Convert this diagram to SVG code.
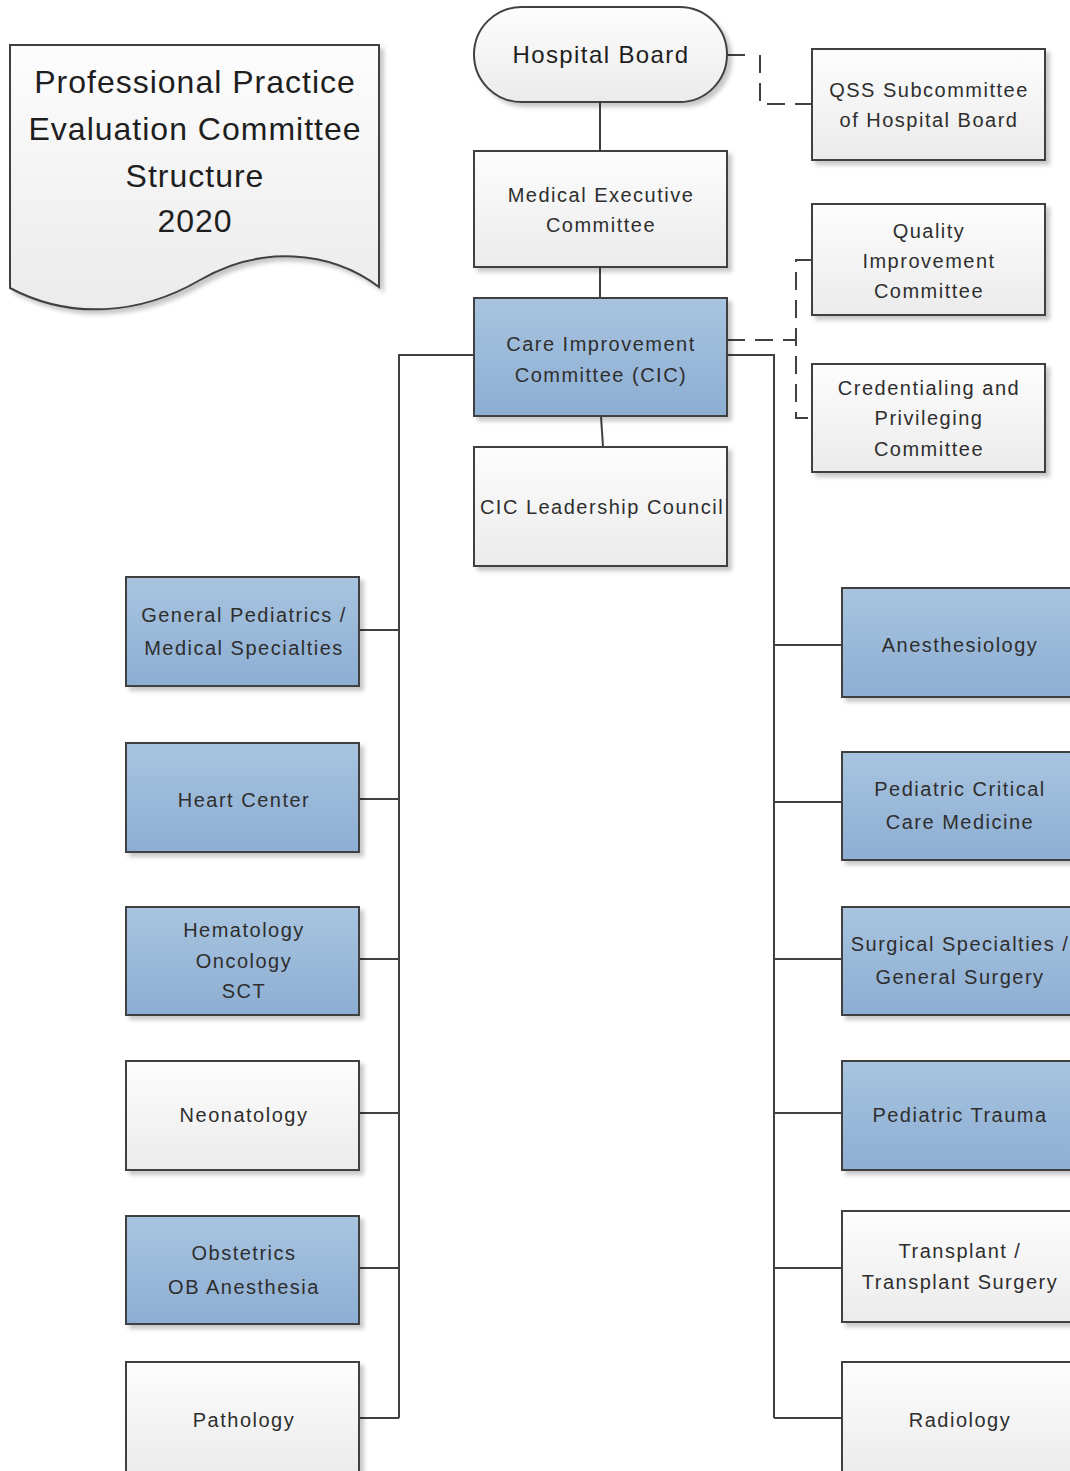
<svg xmlns="http://www.w3.org/2000/svg" width="1070" height="1471" viewBox="0 0 1070 1471">
  <defs>
    <linearGradient id="gGray" x1="0" y1="0" x2="0" y2="1">
      <stop offset="0" stop-color="#fdfdfd"/>
      <stop offset="1" stop-color="#ebebeb"/>
    </linearGradient>
    <linearGradient id="gBlue" x1="0" y1="0" x2="0" y2="1">
      <stop offset="0" stop-color="#a8c4df"/>
      <stop offset="1" stop-color="#8daed3"/>
    </linearGradient>
    <filter id="sh" x="-10%" y="-10%" width="130%" height="130%">
      <feDropShadow dx="4" dy="4" stdDeviation="2" flood-color="#000" flood-opacity="0.22"/>
    </filter>
    <style>
      .gray { fill: url(#gGray); stroke: #404040; stroke-width: 2; filter: url(#sh); }
      .blue { fill: url(#gBlue); stroke: #404040; stroke-width: 2; filter: url(#sh); }
      .t { font-family: "Liberation Sans", Arial, sans-serif; font-size: 20px; letter-spacing: 1.5px; fill: #2e2e2e; text-anchor: middle; }
      .tb { font-family: "Liberation Sans", Arial, sans-serif; font-size: 24px; letter-spacing: 1.4px; fill: #1e1e1e; text-anchor: middle; }
      .title { font-family: "Liberation Sans", Arial, sans-serif; font-size: 32px; letter-spacing: 1px; fill: #1e1e1e; text-anchor: middle; }
      .ln { fill: none; stroke: #404040; stroke-width: 2; }
      .dash { fill: none; stroke: #404040; stroke-width: 2; stroke-dasharray: 18 10; }
    </style>
  </defs>
  <rect width="1070" height="1471" fill="#ffffff"/>

  <g id="title">
    <path class="gray" d="M10,45 H379 V287 C330,250 260,245 200,280 C140,315 70,320 10,288 Z"/>
    <text class="title" x="195" y="93">Professional Practice</text>
    <text class="title" x="195" y="140">Evaluation Committee</text>
    <text class="title" x="195" y="187">Structure</text>
    <text class="title" x="195" y="232">2020</text>
  </g>

  <g id="connectors">
    <line class="ln" x1="600" y1="102" x2="600" y2="151"/>
    <line class="ln" x1="600" y1="267" x2="600" y2="298"/>
    <line class="ln" x1="601" y1="416" x2="603" y2="447"/>
    <path class="ln" d="M727,55 H745"/>
    <path class="dash" d="M760,55 V104 H812"/>
    <path class="dash" d="M727,340 H796"/>
    <path class="dash" d="M812,260 H796 V418 H812"/>
    <path class="ln" d="M474,355 H399 V1418"/>
    <path class="ln" d="M359,630 H399 M359,799 H399 M359,959 H399 M359,1113 H399 M359,1268 H399 M359,1418 H399"/>
    <path class="ln" d="M727,355 H774 V1418"/>
    <path class="ln" d="M774,645 H842 M774,802 H842 M774,959 H842 M774,1113 H842 M774,1268 H842 M774,1418 H842"/>
  </g>

  <g id="hospital-board">
    <rect class="gray" x="474" y="7" width="253" height="95" rx="47.5" ry="47.5"/>
    <text class="tb" x="601" y="63">Hospital Board</text>
  </g>
  <g id="qss">
    <rect class="gray" x="812" y="49" width="233" height="111"/>
    <text class="t" x="929" y="97">QSS Subcommittee</text>
    <text class="t" x="929" y="127">of Hospital Board</text>
  </g>
  <g id="mec">
    <rect class="gray" x="474" y="151" width="253" height="116"/>
    <text class="t" x="601" y="202">Medical Executive</text>
    <text class="t" x="601" y="232">Committee</text>
  </g>
  <g id="qic">
    <rect class="gray" x="812" y="204" width="233" height="111"/>
    <text class="t" x="929" y="238">Quality</text>
    <text class="t" x="929" y="268">Improvement</text>
    <text class="t" x="929" y="298">Committee</text>
  </g>
  <g id="cic">
    <rect class="blue" x="474" y="298" width="253" height="118"/>
    <text class="t" x="601" y="351">Care Improvement</text>
    <text class="t" x="601" y="382">Committee (CIC)</text>
  </g>
  <g id="cred">
    <rect class="gray" x="812" y="364" width="233" height="108"/>
    <text class="t" x="929" y="395">Credentialing and</text>
    <text class="t" x="929" y="425">Privileging</text>
    <text class="t" x="929" y="456">Committee</text>
  </g>
  <g id="cic-leadership">
    <rect class="gray" x="474" y="447" width="253" height="119"/>
    <text class="t" x="602" y="514">CIC Leadership Council</text>
  </g>

  <g id="gen-peds">
    <rect class="blue" x="126" y="577" width="233" height="109"/>
    <text class="t" x="244" y="622">General Pediatrics /</text>
    <text class="t" x="244" y="655">Medical Specialties</text>
  </g>
  <g id="heart">
    <rect class="blue" x="126" y="743" width="233" height="109"/>
    <text class="t" x="244" y="807">Heart Center</text>
  </g>
  <g id="hem-onc">
    <rect class="blue" x="126" y="907" width="233" height="108"/>
    <text class="t" x="244" y="937">Hematology</text>
    <text class="t" x="244" y="968">Oncology</text>
    <text class="t" x="244" y="998">SCT</text>
  </g>
  <g id="neonatology">
    <rect class="gray" x="126" y="1061" width="233" height="109"/>
    <text class="t" x="244" y="1122">Neonatology</text>
  </g>
  <g id="obstetrics">
    <rect class="blue" x="126" y="1216" width="233" height="108"/>
    <text class="t" x="244" y="1260">Obstetrics</text>
    <text class="t" x="244" y="1294">OB Anesthesia</text>
  </g>
  <g id="pathology">
    <rect class="gray" x="126" y="1362" width="233" height="112"/>
    <text class="t" x="244" y="1427">Pathology</text>
  </g>

  <g id="anesthesiology">
    <rect class="blue" x="842" y="588" width="236" height="109"/>
    <text class="t" x="960" y="652">Anesthesiology</text>
  </g>
  <g id="pccm">
    <rect class="blue" x="842" y="752" width="236" height="108"/>
    <text class="t" x="960" y="796">Pediatric Critical</text>
    <text class="t" x="960" y="829">Care Medicine</text>
  </g>
  <g id="surgical">
    <rect class="blue" x="842" y="907" width="236" height="108"/>
    <text class="t" x="960" y="951">Surgical Specialties /</text>
    <text class="t" x="960" y="984">General Surgery</text>
  </g>
  <g id="trauma">
    <rect class="blue" x="842" y="1061" width="236" height="109"/>
    <text class="t" x="960" y="1122">Pediatric Trauma</text>
  </g>
  <g id="transplant">
    <rect class="gray" x="842" y="1211" width="236" height="111"/>
    <text class="t" x="960" y="1258">Transplant /</text>
    <text class="t" x="960" y="1289">Transplant Surgery</text>
  </g>
  <g id="radiology">
    <rect class="gray" x="842" y="1362" width="236" height="115"/>
    <text class="t" x="960" y="1427">Radiology</text>
  </g>
</svg>
